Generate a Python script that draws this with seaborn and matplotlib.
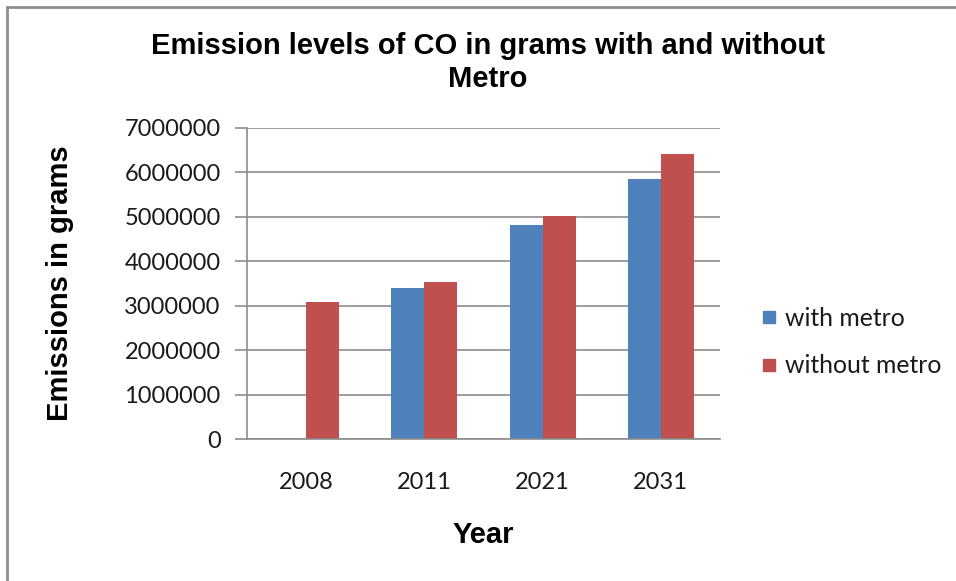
import matplotlib
matplotlib.use("Agg")
import matplotlib.pyplot as plt
from matplotlib.lines import Line2D
import seaborn as sns
import pandas as pd
import numpy as np

# Data
years = ["2008", "2011", "2021", "2031"]
with_metro = [np.nan, 3400000, 4815000, 5860000]
without_metro = [3080000, 3525000, 5010000, 6415000]
series_names = ["with metro", "without metro"]
colors = ["#4F81BD", "#C0504D"]

df = pd.DataFrame({
    "Year": years * 2,
    "Emissions": with_metro + without_metro,
    "Series": [series_names[0]] * 4 + [series_names[1]] * 4,
})

sns.set_theme(style="white")
plt.rcParams["font.family"] = ["Lato", "DejaVu Sans"]

fig = plt.figure(figsize=(9.56, 5.81), dpi=100)
ax = fig.add_axes([247 / 956, 1 - 439 / 581, (720 - 247) / 956, (439 - 128) / 581])

sns.barplot(data=df, x="Year", y="Emissions", hue="Series", order=years,
            hue_order=series_names, palette=colors, width=0.56,
            saturation=1, linewidth=0, ax=ax, legend=False)

ax.set_ylim(0, 7000000)
ticks = np.arange(0, 7000001, 1000000)
ax.set_yticks(ticks)
ax.set_yticklabels([f"{int(v)}" for v in ticks])
ax.set_xlim(-0.5, 3.5)

grid_c = "#8C8C8C"
ax.yaxis.grid(True, color=grid_c, linewidth=1.2)
ax.set_axisbelow(True)
for s in ["top", "right"]:
    ax.spines[s].set_visible(False)
for s in ["left", "bottom"]:
    ax.spines[s].set_color(grid_c)
    ax.spines[s].set_linewidth(1.2)
ax.tick_params(axis="y", which="major", length=9, width=1.2, color=grid_c,
               direction="out", labelsize=17, pad=10, left=True)
ax.tick_params(axis="x", length=0, labelsize=17, pad=24)
for lab in ax.get_xticklabels() + ax.get_yticklabels():
    lab.set_color("#1a1a1a")

ax.set_xlabel("")
ax.set_ylabel("")

bold = dict(family=["Liberation Sans", "DejaVu Sans"], fontweight="bold", color="black")
fig.text(488 / 956, 1 - 46 / 581, "Emission levels of CO in grams with and without",
         ha="center", va="center", fontsize=21, **bold)
fig.text(488 / 956, 1 - 79 / 581, "Metro", ha="center", va="center", fontsize=21, **bold)
fig.text(60 / 956, 1 - 283 / 581, "Emissions in grams", ha="center", va="center",
         rotation=90, fontsize=21, **bold)
fig.text(483 / 956, 1 - 535 / 581, "Year", ha="center", va="center", fontsize=21, **bold)

# Legend
handles = [Line2D([0], [0], marker="s", linestyle="none", markersize=9,
                  markerfacecolor=c, markeredgecolor=c) for c in colors]
fig.legend(handles, series_names, loc="center left",
           bbox_to_anchor=(747 / 956, 1 - 342 / 581), frameon=False, borderpad=0,
           fontsize=17.8, handletextpad=0.25, labelspacing=1.0, handlelength=0.8,
           labelcolor="#1a1a1a")

# Chart border (top and left edges)
fig.add_artist(Line2D([7 / 956, 7 / 956], [0, 1 - 7 / 581], transform=fig.transFigure,
                      color="#8C8C8C", linewidth=2))
fig.add_artist(Line2D([7 / 956, 1], [1 - 7 / 581, 1 - 7 / 581], transform=fig.transFigure,
                      color="#8C8C8C", linewidth=2))

fig.savefig("out.png", dpi=100, facecolor="white")
